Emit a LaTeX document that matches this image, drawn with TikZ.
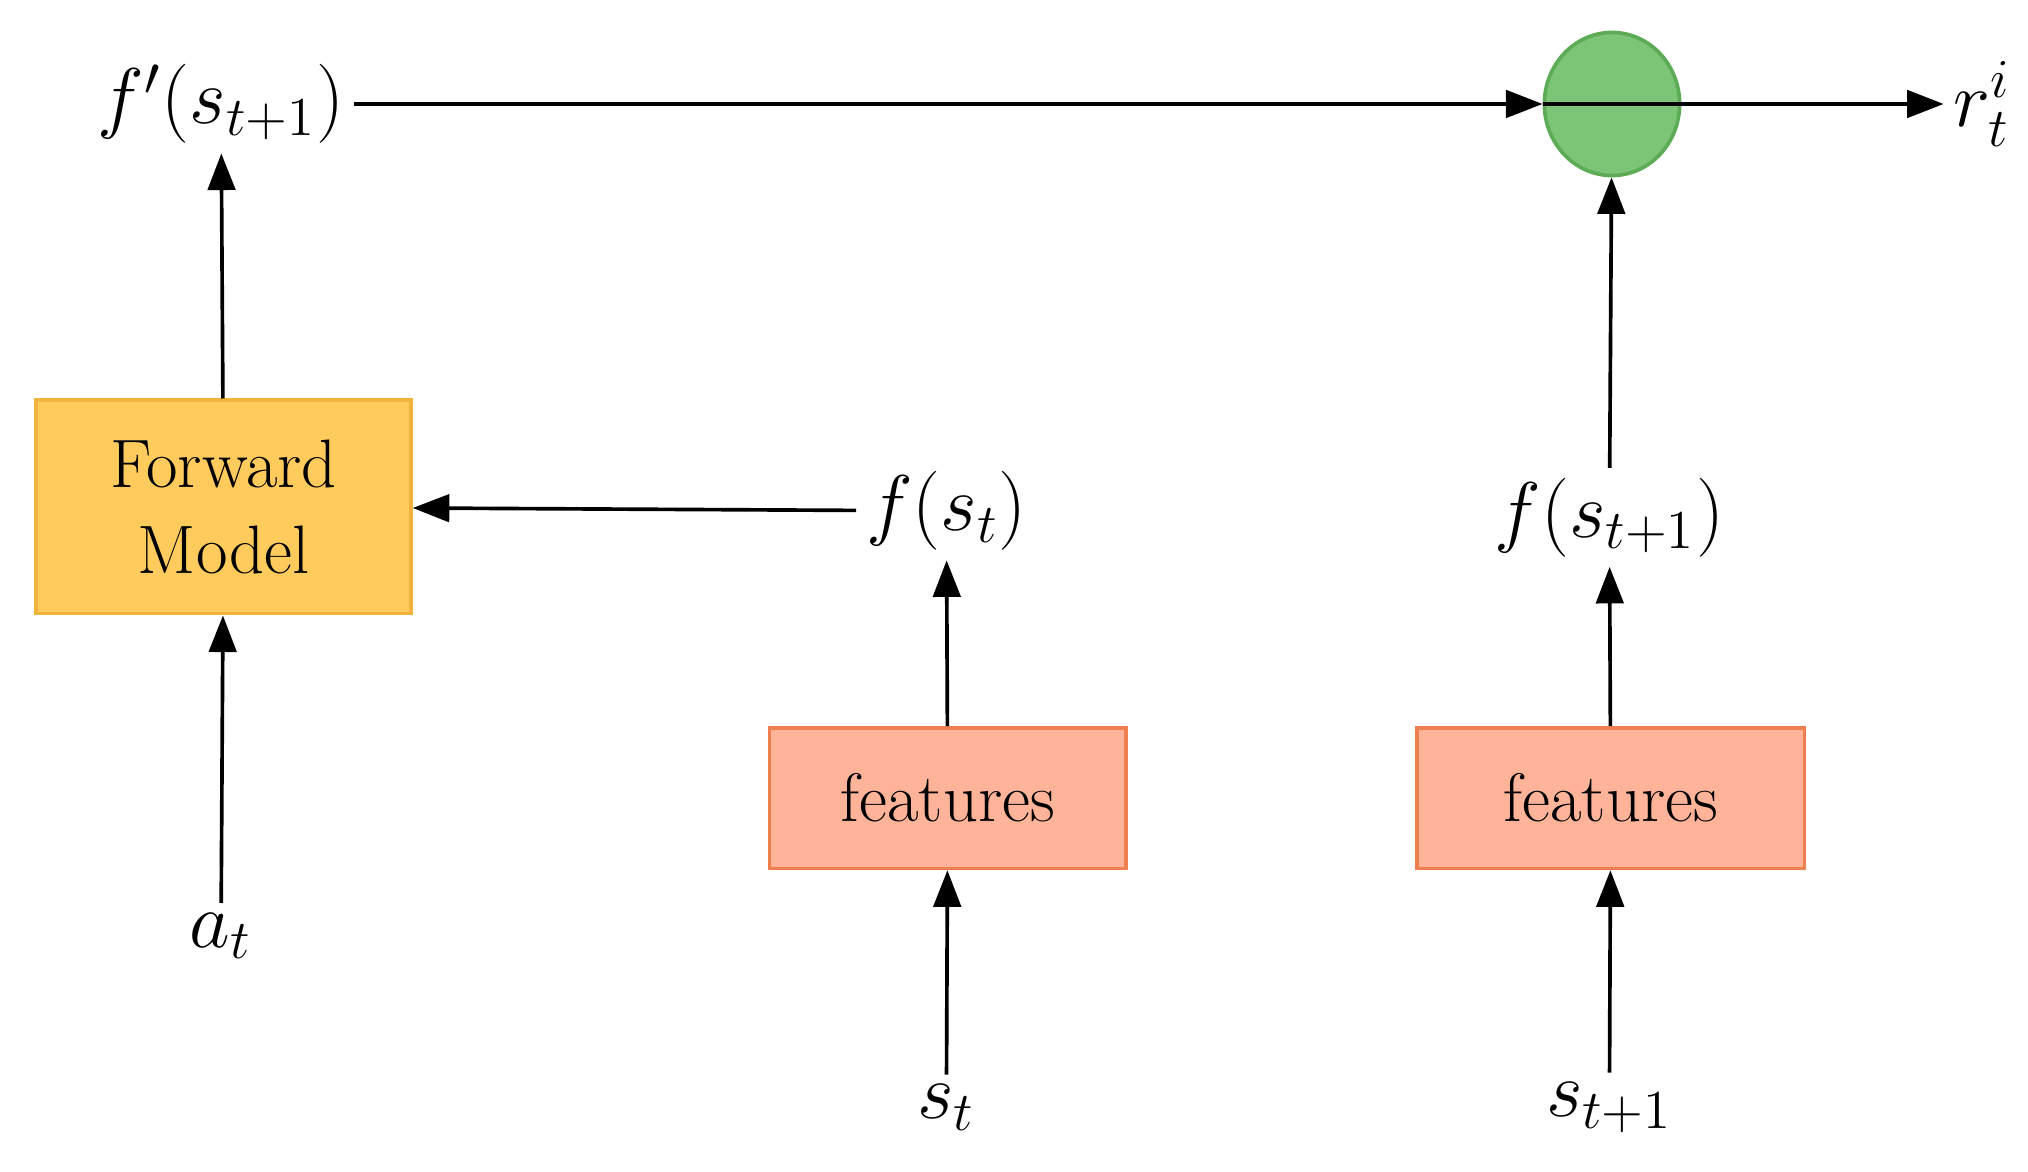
\documentclass[tikz,border=0pt]{standalone}
\usepackage{amsmath}
\usetikzlibrary{arrows.meta,shapes.geometric}
\definecolor{modelFill}{HTML}{FFCB5C}
\definecolor{modelDraw}{HTML}{F2B33D}
\definecolor{featFill}{HTML}{FFB49A}
\definecolor{featDraw}{HTML}{EE8050}
\definecolor{sumFill}{HTML}{7CC576}
\definecolor{sumDraw}{HTML}{5DAA57}
\tikzset{
    box/.style={draw, thick, inner sep=0pt, align=center, font=\fontsize{15}{19}\selectfont},
    lbl/.style={inner sep=2pt, font=\fontsize{17}{20}\selectfont},
    arr/.style={-{Triangle[length=8pt,width=6pt]}, thick}
}
\begin{document}
\begin{tikzpicture}[x=0.01cm, y=-0.01cm]
    \useasboundingbox (0,0) rectangle (1560,901);

    % Boxes
        \node[box, fill=modelFill, draw=modelDraw, minimum width=2.88cm, minimum height=1.64cm] (model) at (172,390) {Forward\\Model};
        \node[box, fill=featFill, draw=featDraw, minimum width=2.74cm, minimum height=1.08cm] (featA) at (729,614) {features};
        \node[box, fill=featFill, draw=featDraw, minimum width=2.98cm, minimum height=1.08cm] (featB) at (1239,614) {features};
        \node[draw=sumDraw, thick, fill=sumFill, ellipse, minimum width=1.04cm, minimum height=1.1cm, inner sep=0pt] (sum) at (1240,80) {};

    % Labels
        \node[lbl] (fpred) at (170,80) {$f'(s_{t+1})$};
        \node[lbl] (reward) at (1525,80) {$r_t^i$};
        \node[lbl] (fst) at (728,393) {$f(s_t)$};
        \node[lbl] (fsnext) at (1238,398) {$f(s_{t+1})$};
        \node[lbl] (at) at (170,720) {$a_t$};
        \node[lbl] (st) at (728,852) {$s_t$};
        \node[lbl] (snext) at (1238,852) {$s_{t+1}$};

    % Arrows
        \draw[arr] (at) -- (model);
        \draw[arr] (model) -- (fpred);
        \draw[arr] (fst) -- (model);
        \draw[arr] (st) -- (featA);
        \draw[arr] (featA) -- (fst);
        \draw[arr] (snext) -- (featB);
        \draw[arr] (featB) -- (fsnext);
        \draw[arr] (fsnext) -- (sum);
        \draw[arr] (fpred) -- (sum.west);
        \draw[arr] (sum.west) -- (reward);
\end{tikzpicture}
\end{document}
